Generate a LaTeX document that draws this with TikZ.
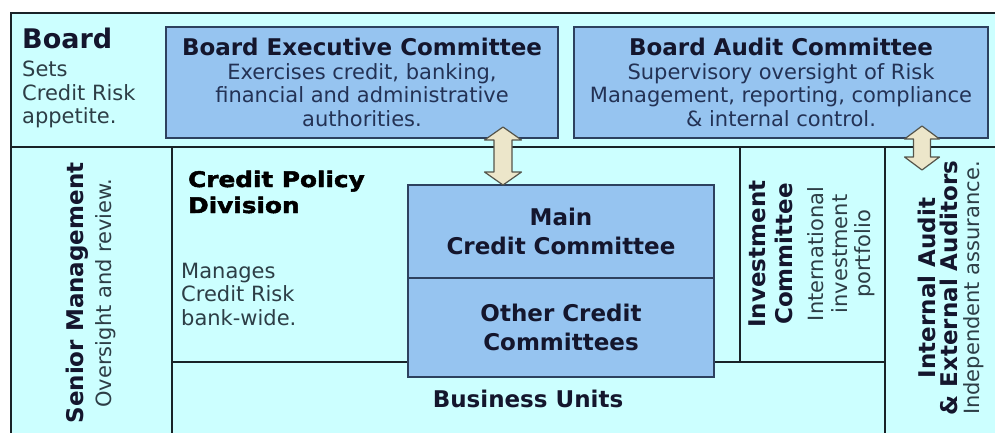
\documentclass[tikz,border=0pt]{standalone}
\usepackage{fontspec}
\setmainfont{DejaVu Sans}
\newfontfamily\heavyfont{DejaVu Sans Bold}[FakeStretch=1.15,FakeBold=2.2]
\usepackage{tikz}
\usetikzlibrary{positioning}
\definecolor{panelcyan}{RGB}{204,255,255}
\definecolor{boxblue}{RGB}{150,196,240}
\definecolor{frameline}{RGB}{25,35,40}
\definecolor{boxline}{RGB}{45,65,95}
\definecolor{headtext}{RGB}{20,22,45}
\definecolor{bodytext}{RGB}{45,62,70}
\definecolor{boxtext}{RGB}{35,50,85}
\definecolor{arrowfill}{RGB}{236,230,202}
\definecolor{arrowline}{RGB}{85,85,75}
\newcommand{\bodysize}{\fontsize{21}{23.5}\selectfont}
\newcommand{\headsize}{\fontsize{23}{29}\selectfont\bfseries}
\tikzset{
    divider/.style={draw=frameline, line width=2.8pt},
    committee/.style={rectangle, draw=boxline, line width=1.5pt, fill=boxblue, text=boxtext, align=center, inner sep=0pt, outer sep=0pt, font=\bodysize},
    heading/.style={text=headtext, font=\headsize, inner sep=0pt},
    note/.style={text=bodytext, font=\bodysize, align=left, inner sep=0pt},
    sidebar/.style={rotate=90, align=center, inner sep=0pt, text=bodytext, font=\bodysize},
    linkarrow/.style={draw=arrowline, line width=1.2pt, fill=arrowfill, line join=round}
}
\begin{document}
\begin{tikzpicture}[x=1pt, y=-1pt]
    \useasboundingbox (0,0) rectangle (995,433);
    % Panels
    \fill[white] (0,0) rectangle (995,433);
    \fill[panelcyan] (11,13) rectangle (995,433);
    \draw[divider] (995,13) -- (11,13) -- (11,433);
    \draw[divider] (11,147) -- (995,147);
    \draw[divider] (172,147) -- (172,433);
    \draw[divider] (885,147) -- (885,433);
    \draw[divider] (740,147) -- (740,362);
    \draw[divider] (172,362) -- (885,362);

    % Board row
    \node[heading, anchor=base west, font=\fontsize{27}{30}\selectfont\bfseries] (board) at (22,49) {Board};
    \node[note, anchor=base west] (boardnote) at (22,124) {Sets\\Credit Risk\\appetite.};
    \node[committee, minimum width=392pt, minimum height=111pt] (bec) at (362,82.5) {{\color{headtext}\headsize Board Executive Committee}\\Exercises credit, banking,\\financial and administrative\\authorities.};
    \node[committee, minimum width=414pt, minimum height=111pt] (bac) at (781,82.5) {{\color{headtext}\headsize Board Audit Committee}\\Supervisory oversight of Risk\\Management, reporting, compliance\\\& internal control.};

    % Credit policy division
    \node[anchor=base west, align=left, inner sep=0pt, font=\heavyfont\fontsize{21.5}{26}\selectfont] (cpd) at (188,213) {Credit Policy\\Division};
    \node[note, anchor=base west] (cpdnote) at (181,325) {Manages\\Credit Risk\\bank-wide.};

    % Credit committees
    \node[committee, font=\headsize, text=headtext, minimum width=306pt, minimum height=93pt] (mcc) at (561,231.5) {Main\\Credit Committee};
    \node[committee, font=\headsize, text=headtext, minimum width=306pt, minimum height=99pt, below=0pt of mcc] (occ) {Other Credit\\Committees};
    \node[heading, anchor=base] (units) at (528,407) {Business Units};

    % Side columns
    \node[sidebar] (senior) at (91,293) {\textcolor{headtext}{\headsize Senior Management}\\[4pt]Oversight and review.};
    \node[sidebar] (invest) at (812,254) {\textcolor{headtext}{\headsize Investment}\\[3pt]\textcolor{headtext}{\headsize Committee}\\[8pt]International\\investment\\portfolio};
    \node[sidebar] (audit) at (951,288) {\textcolor{headtext}{\headsize Internal Audit}\\[-2pt]\textcolor{headtext}{\headsize \& External Auditors}\\[-1pt]Independent assurance.};

    % Arrows
    \coordinate (execlink) at (bec.south -| 503,0);
    \coordinate (auditlink) at (bac.south -| 922,0);
    \draw[linkarrow] (execlink) ++(0,-11) -- ++(18.5,13) -- ++(-9.5,0) -- ++(0,32) -- ++(9.5,0) -- ++(-18.5,13) -- ++(-18.5,-13) -- ++(9.5,0) -- ++(0,-32) -- ++(-9.5,0) -- cycle;
    \draw[linkarrow] (auditlink) ++(0,-12) -- ++(17.5,13) -- ++(-9,0) -- ++(0,18) -- ++(9,0) -- ++(-17.5,13) -- ++(-17.5,-13) -- ++(9,0) -- ++(0,-18) -- ++(-9,0) -- cycle;
\end{tikzpicture}
\end{document}
